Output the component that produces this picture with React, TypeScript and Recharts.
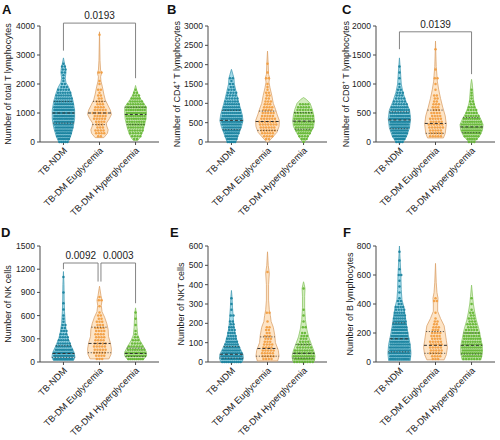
import React from 'react';
import { ScatterChart, Scatter, XAxis, YAxis, ReferenceLine, Label } from 'recharts';

type Pair = [number, number];
type Bracket = { a: number; b: number; y: number; ya: number; yb: number; text: string };

const GROUPS = ['TB-NDM', 'TB-DM Euglycemia', 'TB-DM Hyperglycemia'];
const DOT = ['#15809c', '#f29b3c', '#5fb52f'];
const FILL = ['#a3dbea', '#fde4c6', '#d2ecbd'];
const EDGE = ['#4b9fb6', '#dca36c', '#8cc767'];

// violin outline: [value, half width in category units]
// dots: [value, number of points in that row]
// stats: [median, q1, q3]

// A - total T lymphocytes
const aTicks = [0, 1000, 2000, 3000, 4000];
const aShapes: Pair[][] = [
  [[0, 0.13], [200, 0.2], [500, 0.27], [800, 0.31], [1100, 0.31], [1400, 0.27], [1700, 0.2], [1900, 0.14], [2050, 0.07], [2200, 0.05], [2400, 0.07], [2550, 0.06], [2700, 0.03], [2900, 0]],
  [[150, 0.12], [300, 0.22], [420, 0.24], [550, 0.2], [650, 0.19], [800, 0.27], [950, 0.33], [1100, 0.3], [1250, 0.24], [1450, 0.16], [1650, 0.12], [1900, 0.08], [2100, 0.04], [2250, 0.03], [2380, 0.06], [2480, 0.03], [2800, 0.015], [3800, 0]],
  [[50, 0.06], [150, 0.12], [300, 0.18], [450, 0.22], [600, 0.25], [800, 0.29], [1000, 0.3], [1200, 0.3], [1350, 0.22], [1500, 0.13], [1650, 0.07], [1800, 0.03], [1950, 0]],
];
const aDots: Pair[][] = [
  [[0, 5], [100, 7], [200, 8], [300, 9], [400, 10], [500, 11], [600, 11], [700, 12], [800, 12], [900, 12], [1000, 12], [1100, 12], [1200, 11], [1300, 10], [1400, 9], [1500, 8], [1600, 7], [1700, 6], [1800, 5], [1900, 3], [2000, 2], [2100, 1], [2200, 1], [2300, 1], [2400, 2], [2500, 2], [2600, 2], [2700, 1]],
  [[200, 2], [300, 4], [400, 4], [500, 3], [600, 3], [700, 4], [800, 5], [900, 5], [1000, 6], [1100, 5], [1200, 4], [1300, 3], [1400, 3], [1500, 2], [1600, 2], [1700, 1], [1800, 2], [2000, 1], [2100, 1], [2400, 2], [3700, 1]],
  [[100, 2], [200, 4], [300, 5], [400, 6], [500, 7], [600, 8], [700, 8], [800, 9], [900, 9], [1000, 10], [1100, 9], [1200, 9], [1300, 7], [1400, 6], [1500, 5], [1600, 3], [1700, 2], [1800, 1]],
];
const aStats: number[][] = [[1000, 650, 1400], [1000, 600, 1400], [950, 600, 1200]];
const aBrackets: Bracket[] = [{ a: 1, b: 3, y: 4100, ya: 3150, yb: 2200, text: '0.0193' }];

// B - CD4+ T lymphocytes
const bTicks = [0, 500, 1000, 1500, 2000, 2500, 3000];
const bShapes: Pair[][] = [
  [[0, 0.12], [200, 0.2], [400, 0.28], [550, 0.32], [700, 0.3], [900, 0.24], [1100, 0.18], [1300, 0.13], [1500, 0.08], [1650, 0.07], [1750, 0.04], [1880, 0]],
  [[0, 0.02], [100, 0.12], [250, 0.26], [400, 0.32], [550, 0.33], [700, 0.27], [850, 0.22], [1000, 0.16], [1200, 0.12], [1400, 0.07], [1550, 0.04], [1650, 0.06], [1750, 0.03], [2000, 0.02], [2350, 0]],
  [[0, 0.02], [100, 0.1], [250, 0.2], [400, 0.28], [550, 0.3], [700, 0.28], [850, 0.24], [1000, 0.18], [1100, 0.08], [1150, 0]],
];
const bDots: Pair[][] = [
  [[0, 5], [75, 6], [150, 7], [225, 8], [300, 9], [375, 10], [450, 11], [525, 12], [600, 11], [675, 11], [750, 10], [825, 9], [900, 8], [975, 7], [1050, 6], [1125, 5], [1200, 4], [1275, 4], [1350, 3], [1425, 2], [1500, 2], [1575, 1], [1650, 2]],
  [[75, 2], [150, 4], [225, 5], [300, 6], [375, 6], [450, 7], [525, 7], [600, 6], [675, 5], [750, 5], [825, 4], [900, 4], [975, 3], [1050, 3], [1125, 2], [1200, 2], [1275, 2], [1350, 1], [1425, 1], [1500, 1], [1650, 2], [1800, 1], [2025, 1]],
  [[0, 1], [75, 3], [150, 4], [225, 6], [300, 7], [375, 8], [450, 9], [525, 9], [600, 9], [675, 8], [750, 7], [825, 6], [900, 5], [975, 4]],
];
const bStats: number[][] = [[560, 320, 820], [530, 300, 800], [540, 330, 760]];
const bBrackets: Bracket[] = [];

// C - CD8+ T lymphocytes
const cTicks = [0, 500, 1000, 1500, 2000];
const cShapes: Pair[][] = [
  [[0, 0.1], [100, 0.2], [250, 0.28], [400, 0.31], [550, 0.28], [700, 0.18], [850, 0.1], [1000, 0.05], [1200, 0.03], [1450, 0]],
  [[70, 0.22], [150, 0.27], [300, 0.3], [450, 0.27], [600, 0.2], [750, 0.14], [900, 0.09], [1050, 0.05], [1150, 0.04], [1300, 0.02], [1500, 0.01], [1740, 0]],
  [[20, 0.1], [100, 0.22], [200, 0.3], [300, 0.32], [400, 0.25], [500, 0.16], [600, 0.1], [700, 0.06], [850, 0.04], [1000, 0.02], [1080, 0]],
];
const cDots: Pair[][] = [
  [[0, 4], [50, 7], [100, 8], [150, 9], [200, 10], [250, 11], [300, 12], [350, 12], [400, 12], [450, 11], [500, 10], [550, 9], [600, 8], [650, 6], [700, 5], [750, 4], [800, 3], [850, 3], [900, 2], [950, 1], [1000, 1], [1100, 1], [1200, 1], [1300, 1]],
  [[100, 5], [150, 5], [200, 5], [250, 6], [300, 6], [350, 5], [400, 5], [450, 4], [500, 4], [550, 3], [600, 3], [650, 3], [700, 2], [750, 2], [800, 2], [900, 1], [1000, 1], [1100, 2], [1250, 1], [1600, 1]],
  [[0, 3], [50, 5], [100, 7], [150, 9], [200, 11], [250, 11], [300, 10], [350, 9], [400, 8], [450, 6], [500, 5], [550, 4], [600, 3], [650, 2], [700, 2], [750, 1], [800, 1], [850, 1], [900, 1]],
];
const cStats: number[][] = [[380, 230, 520], [320, 150, 550], [260, 160, 420]];
const cBrackets: Bracket[] = [{ a: 1, b: 3, y: 1900, ya: 1600, yb: 1170, text: '0.0139' }];

// D - NK cells
const dTicks = [0, 300, 600, 900, 1200, 1500];
const dShapes: Pair[][] = [
  [[20, 0.28], [60, 0.32], [120, 0.3], [200, 0.22], [300, 0.13], [400, 0.08], [500, 0.05], [650, 0.03], [800, 0.02], [1000, 0.015], [1170, 0]],
  [[40, 0.26], [100, 0.32], [170, 0.33], [250, 0.3], [330, 0.25], [420, 0.24], [500, 0.2], [580, 0.14], [650, 0.07], [730, 0.05], [800, 0.07], [860, 0.04], [950, 0.01], [980, 0]],
  [[30, 0.22], [80, 0.3], [130, 0.3], [200, 0.22], [280, 0.12], [350, 0.06], [450, 0.04], [550, 0.03], [650, 0.015], [700, 0]],
];
const dDots: Pair[][] = [
  [[40, 12], [80, 13], [120, 12], [160, 10], [200, 8], [240, 6], [280, 5], [320, 4], [360, 3], [400, 3], [440, 2], [480, 2], [520, 1], [560, 1], [600, 1], [680, 1], [760, 1], [900, 1], [1100, 1]],
  [[40, 3], [80, 4], [120, 5], [160, 5], [200, 5], [240, 5], [280, 4], [320, 4], [360, 4], [400, 4], [440, 4], [480, 3], [520, 3], [560, 2], [600, 2], [640, 1], [720, 1], [800, 2], [840, 1]],
  [[40, 8], [80, 10], [120, 10], [160, 8], [200, 6], [240, 4], [280, 3], [320, 2], [360, 1], [400, 1], [480, 1], [560, 1], [640, 1]],
];
const dStats: number[][] = [[110, 60, 210], [240, 120, 450], [110, 70, 180]];
const dBrackets: Bracket[] = [
  { a: 1, b: 1.96, y: 1280, ya: 1200, yb: 1040, text: '0.0092' },
  { a: 2.04, b: 3, y: 1280, ya: 1040, yb: 760, text: '0.0003' },
];

// E - NKT cells
const eTicks = [0, 100, 200, 300, 400, 500, 600];
const eShapes: Pair[][] = [
  [[0, 0.3], [20, 0.33], [40, 0.32], [70, 0.24], [100, 0.17], [140, 0.11], [180, 0.07], [230, 0.05], [280, 0.03], [340, 0.015], [370, 0]],
  [[5, 0.28], [30, 0.32], [60, 0.3], [100, 0.22], [140, 0.2], [180, 0.16], [210, 0.1], [240, 0.08], [270, 0.05], [320, 0.03], [400, 0.03], [460, 0.05], [500, 0.02], [570, 0]],
  [[5, 0.3], [30, 0.32], [60, 0.28], [90, 0.22], [130, 0.14], [170, 0.09], [220, 0.05], [280, 0.03], [340, 0.03], [380, 0.04], [400, 0.02], [415, 0]],
];
const eDots: Pair[][] = [
  [[0, 10], [15, 12], [30, 12], [45, 11], [60, 10], [75, 8], [90, 7], [105, 6], [120, 5], [135, 4], [150, 4], [165, 3], [180, 3], [195, 2], [210, 2], [240, 2], [270, 1], [300, 1], [330, 1]],
  [[15, 4], [30, 5], [45, 5], [60, 5], [75, 4], [90, 4], [105, 3], [120, 3], [135, 3], [150, 2], [165, 2], [180, 2], [210, 1], [255, 2], [465, 1]],
  [[0, 8], [15, 10], [30, 10], [45, 9], [60, 8], [75, 6], [90, 5], [105, 4], [120, 3], [135, 3], [150, 2], [180, 2], [210, 1], [240, 1], [270, 1], [380, 1]],
];
const eStats: number[][] = [[40, 20, 80], [70, 30, 130], [45, 20, 90]];
const eBrackets: Bracket[] = [];

// F - B lymphocytes
const fTicks = [0, 200, 400, 600, 800];
const fShapes: Pair[][] = [
  [[10, 0.3], [60, 0.32], [120, 0.3], [180, 0.25], [250, 0.2], [320, 0.16], [380, 0.12], [430, 0.07], [500, 0.05], [600, 0.04], [700, 0.02], [800, 0]],
  [[15, 0.24], [50, 0.3], [100, 0.33], [150, 0.3], [200, 0.27], [250, 0.24], [300, 0.14], [350, 0.06], [400, 0.06], [440, 0.07], [480, 0.04], [550, 0.02], [680, 0]],
  [[15, 0.26], [60, 0.3], [110, 0.3], [170, 0.25], [230, 0.2], [290, 0.13], [340, 0.09], [400, 0.05], [450, 0.03], [530, 0]],
];
const fDots: Pair[][] = [
  [[20, 11], [40, 12], [60, 12], [80, 12], [100, 12], [120, 11], [140, 11], [160, 10], [180, 10], [200, 9], [220, 9], [240, 8], [260, 8], [280, 7], [300, 6], [320, 6], [340, 5], [360, 4], [380, 4], [400, 2], [420, 2], [440, 1], [480, 1], [520, 1], [560, 1], [600, 2], [640, 1], [700, 1], [760, 1]],
  [[20, 3], [40, 4], [60, 5], [80, 5], [100, 5], [120, 5], [140, 5], [160, 4], [180, 4], [200, 4], [220, 3], [240, 3], [260, 2], [280, 2], [300, 1], [340, 1], [420, 2], [440, 1]],
  [[20, 7], [40, 9], [60, 10], [80, 10], [100, 10], [120, 9], [140, 8], [160, 8], [180, 7], [200, 6], [220, 5], [240, 4], [260, 4], [280, 3], [300, 3], [320, 2], [340, 2], [360, 1], [400, 1], [440, 1]],
];
const fStats: number[][] = [[160, 70, 270], [115, 60, 210], [115, 55, 200]];
const fBrackets: Bracket[] = [];

const PANELS = [
  { letter: 'A', left: 0, top: 0, lx: 8, pre: 'Number of total T lymphocytes', sup: '', post: '', ticks: aTicks, shapes: aShapes, dots: aDots, stats: aStats, brackets: aBrackets },
  { letter: 'B', left: 168, top: 0, lx: 9, pre: 'Number of CD4', sup: '+', post: ' T lymphocytes', ticks: bTicks, shapes: bShapes, dots: bDots, stats: bStats, brackets: bBrackets },
  { letter: 'C', left: 336, top: 0, lx: 10, pre: 'Number of CD8', sup: '+', post: ' T lymphocytes', ticks: cTicks, shapes: cShapes, dots: cDots, stats: cStats, brackets: cBrackets },
  { letter: 'D', left: 0, top: 220, lx: 8, pre: 'Number of NK cells', sup: '', post: '', ticks: dTicks, shapes: dShapes, dots: dDots, stats: dStats, brackets: dBrackets },
  { letter: 'E', left: 168, top: 220, lx: 13, pre: 'Number of NKT cells', sup: '', post: '', ticks: eTicks, shapes: eShapes, dots: eDots, stats: eStats, brackets: eBrackets },
  { letter: 'F', left: 336, top: 220, lx: 14, pre: 'Number of B lymphocytes', sup: '', post: '', ticks: fTicks, shapes: fShapes, dots: fDots, stats: fStats, brackets: fBrackets },
];

const LETTER_POS = [
  [2, 3], [167, 3], [342, 3], [1, 226], [170, 226], [343, 226],
];

const PLOT_TOP = 26;
const PLOT_H = 116;
const AXIS = '#4a4a4a';

function widthAt(prof: Pair[], v: number) {
  if (v <= prof[0][0]) return prof[0][1];
  for (let i = 1; i < prof.length; i++) {
    const [v0, w0] = prof[i - 1];
    const [v1, w1] = prof[i];
    if (v <= v1) return w0 + ((w1 - w0) * (v - v0)) / (v1 - v0);
  }
  return 0;
}

function violinPath(prof: Pair[], g: number) {
  const right = prof.map(([v, w]) => ({ x: g + w, y: v }));
  const left = [...prof].reverse().map(([v, w]) => ({ x: g - w, y: v }));
  return [...right, ...left, right[0]];
}

function dotPoints(rows: Pair[], prof: Pair[], g: number) {
  const pts: { x: number; y: number }[] = [];
  rows.forEach(([v, n], r) => {
    const w = Math.max(widthAt(prof, v), 0.025);
    const step = n > 1 ? Math.min(0.075, (2 * w * 0.85) / (n - 1)) : 0;
    const shift = n > 1 && r % 2 ? step * 0.25 : 0;
    for (let k = 0; k < n; k++) {
      pts.push({ x: g + (k - (n - 1) / 2) * step + shift, y: v });
    }
  });
  return pts;
}

function statLine(prof: Pair[], g: number, v: number) {
  const w = widthAt(prof, v);
  return [{ x: g - w, y: v }, { x: g + w, y: v }];
}

const noDot = () => <g />;

const CatTick = (props: any) => {
  const { x, y, payload } = props;
  const px = x + 2;
  const py = y + 2;
  return (
    <text
      x={px}
      y={py}
      transform={`rotate(-45 ${px} ${py})`}
      textAnchor="end"
      dominantBaseline="central"
      fontSize={9.2}
      fill="#222"
    >
      {GROUPS[payload.value - 1]}
    </text>
  );
};

function Panel({ p }: { p: (typeof PANELS)[number] }) {
  const max = p.ticks[p.ticks.length - 1];
  const cy = PLOT_TOP + PLOT_H / 2;
  const renderLabel = () => (
    <text
      x={p.lx}
      y={cy}
      transform={`rotate(-90 ${p.lx} ${cy})`}
      textAnchor="middle"
      dominantBaseline="central"
      fontSize={9}
      fill="#222"
    >
      <tspan>{p.pre}</tspan>
      {p.sup ? <tspan dy={-3} fontSize={6}>{p.sup}</tspan> : null}
      {p.sup ? <tspan dy={3}>{p.post}</tspan> : null}
    </text>
  );

  return (
    <div style={{ position: 'absolute', left: p.left, top: p.top }}>
      <ScatterChart width={164} height={240} margin={{ top: PLOT_TOP, right: 5, bottom: 28, left: 0 }}>
        <XAxis
          type="number"
          dataKey="x"
          domain={[0.35, 3.65]}
          ticks={[1, 2, 3]}
          interval={0}
          height={70}
          tickSize={3}
          tickMargin={2}
          axisLine={{ stroke: AXIS }}
          tickLine={{ stroke: AXIS }}
          tick={<CatTick />}
        />
        <YAxis
          type="number"
          dataKey="y"
          domain={[0, max]}
          ticks={p.ticks}
          interval={0}
          width={40}
          tickSize={3}
          tickMargin={2}
          axisLine={{ stroke: AXIS }}
          tickLine={{ stroke: AXIS }}
          tick={{ fontSize: 8.5, fill: '#222' }}
        >
          <Label content={renderLabel} />
        </YAxis>
        {p.shapes.map((prof, i) => (
          <Scatter
            key={'v' + i}
            data={violinPath(prof, i + 1)}
            shape={noDot}
            line={{ fill: FILL[i], stroke: EDGE[i], strokeWidth: 0.8 }}
            isAnimationActive={false}
          />
        ))}
        {p.dots.map((rows, i) => (
          <Scatter
            key={'d' + i}
            data={dotPoints(rows, p.shapes[i], i + 1)}
            shape={(s: any) => <circle cx={s.cx} cy={s.cy} r={1.25} fill={DOT[i]} fillOpacity={0.9} />}
            isAnimationActive={false}
          />
        ))}
        {p.stats.map((st, i) =>
          st.map((v, j) => (
            <Scatter
              key={'s' + i + '-' + j}
              data={statLine(p.shapes[i], i + 1, v)}
              shape={noDot}
              line={{ stroke: '#333', strokeWidth: j === 0 ? 1 : 0.8, strokeDasharray: j === 0 ? '3 2' : '1.2 1.6' }}
              isAnimationActive={false}
            />
          ))
        )}
        {p.brackets.map((b, k) => (
          <React.Fragment key={'b' + k}>
            <ReferenceLine segment={[{ x: b.a, y: b.ya }, { x: b.a, y: b.y }]} stroke="#777" strokeWidth={0.9} ifOverflow="visible" />
            <ReferenceLine
              segment={[{ x: b.a, y: b.y }, { x: b.b, y: b.y }]}
              stroke="#777"
              strokeWidth={0.9}
              ifOverflow="visible"
              label={{ value: b.text, position: 'top', offset: 4, fontSize: 10, fill: '#222' }}
            />
            <ReferenceLine segment={[{ x: b.b, y: b.y }, { x: b.b, y: b.yb }]} stroke="#777" strokeWidth={0.9} ifOverflow="visible" />
          </React.Fragment>
        ))}
      </ScatterChart>
    </div>
  );
}

export default function App() {
  return (
    <div
      style={{
        position: 'absolute',
        left: 0,
        top: 0,
        width: 500,
        height: 440,
        background: '#fff',
        fontFamily: '"Liberation Sans", Arial, sans-serif',
        overflow: 'hidden',
      }}
    >
      {PANELS.map((p) => (
        <Panel key={p.letter} p={p} />
      ))}
      {PANELS.map((p, i) => (
        <div
          key={'l' + p.letter}
          style={{
            position: 'absolute',
            left: LETTER_POS[i][0],
            top: LETTER_POS[i][1],
            fontSize: 13,
            lineHeight: '13px',
            fontWeight: 'bold',
            color: '#111',
          }}
        >
          {p.letter}
        </div>
      ))}
    </div>
  );
}
